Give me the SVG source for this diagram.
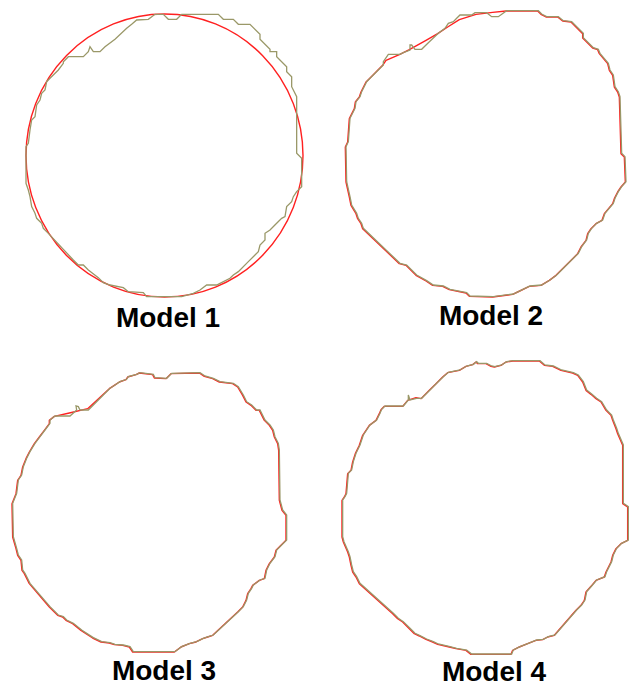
<svg xmlns="http://www.w3.org/2000/svg" width="629" height="687" viewBox="0 0 629 687">
<style>
.red{fill:none;stroke:#ff2020;stroke-width:1.4;stroke-linejoin:round;vector-effect:non-scaling-stroke}
.ol{fill:none;stroke:#9a9868;stroke-width:1.3;stroke-linejoin:miter;vector-effect:non-scaling-stroke}
.lbl{font-family:"Liberation Sans",Arial,sans-serif;font-weight:bold;font-size:28px;fill:#000;text-anchor:middle}
</style>
<rect width="629" height="687" fill="#fff"/>
<g id="model1">
<ellipse class="red" cx="164.5" cy="155.5" rx="138.5" ry="141.5"/>
<g transform="scale(0.33333)">
<polygon class="ol" points="465,43 490,43 505,58 530,58 545,43 655,43 670,58 700,58 715,73 750,73 780,103 780,118 810,148 810,155 830,155 830,170 860,200 860,215 875,230 875,260 890,290 890,460 905,475 905,560 890,575 880,590 875,605 860,620 855,650 845,655 830,670 810,690 795,700 795,720 780,735 775,755 745,785 715,815 700,825 690,835 660,850 650,855 620,855 600,870 580,880 545,890 440,890 430,878 385,875 370,863 330,855 310,848 295,833 265,810 250,795 235,795 220,780 145,700 130,685 125,670 110,655 105,640 95,620 90,590 85,570 78,550 78,440 85,430 90,390 95,360 105,350 110,315 120,300 125,280 135,270 140,245 150,235 175,210 190,190 190,185 205,170 250,170 265,155 270,140 280,155 300,155 315,140 345,118 380,85 395,73 410,60 445,58"/>
</g>
<text class="lbl" x="168" y="327">Model 1</text>
</g>
<g id="model2">
<g transform="translate(320,0) scale(0.33333)">
<polygon class="red" transform="translate(-2,1)" points="560,32 655,32 665,42 680,50 715,50 730,62 755,65 790,100 790,113 820,143 835,148 840,160 865,190 870,210 880,225 885,260 895,275 900,290 905,460 915,470 918,545 905,560 895,575 885,595 880,610 855,640 848,660 830,670 815,685 805,700 800,720 785,740 775,760 760,775 710,825 690,840 665,855 630,858 595,875 580,882 520,890 450,888 440,878 390,868 370,858 340,855 320,842 290,825 260,795 240,790 130,685 125,670 115,655 110,640 95,615 90,590 80,545 78,440 85,425 90,355 105,325 108,305 120,290 125,275 140,245 150,235 190,195 200,180 240,163 270,148 320,120 355,100 385,80 420,58 470,42 520,36"/>
<polygon class="ol" points="560,32 655,32 665,42 680,50 715,50 730,62 755,65 790,100 790,113 820,143 835,148 840,160 865,190 870,210 880,225 885,260 895,275 900,290 905,460 915,470 918,545 905,560 895,575 885,595 880,610 855,640 848,660 830,670 815,685 805,700 800,720 785,740 775,760 760,775 710,825 690,840 665,855 630,858 595,875 580,882 520,890 450,888 440,878 390,868 370,858 340,855 320,842 290,825 260,795 240,790 130,685 125,670 115,655 110,640 95,615 90,590 80,545 78,440 85,425 90,355 105,325 108,305 120,290 125,275 140,245 150,235 190,195 190,185 205,163 240,163 250,158 270,150 270,135 275,135 285,148 305,148 325,128 355,100 375,85 385,70 400,65 410,55 420,45 455,45 465,38 500,38 515,50 535,50"/>
</g>
<text class="lbl" x="491" y="325">Model 2</text>
</g>
<g id="model3">
<g transform="translate(0,340) scale(0.33333)">
<polygon class="red" transform="translate(-2,1)" points="515,100 600,98 615,108 640,115 660,125 700,130 715,140 730,165 740,185 755,195 770,210 780,210 795,240 810,255 820,270 825,290 835,310 838,330 840,480 848,510 860,525 860,600 845,615 830,630 825,650 810,670 800,690 795,715 780,720 760,735 755,745 745,760 740,780 730,800 715,815 640,885 625,890 610,895 590,905 570,910 545,920 525,935 400,935 390,920 370,915 345,913 330,908 305,905 280,893 260,880 245,870 220,850 200,840 190,830 175,825 150,800 90,730 75,700 68,690 65,660 55,645 50,625 40,590 38,490 50,460 55,420 65,405 70,380 80,355 90,335 105,310 120,290 135,270 150,250 150,240 165,228 210,218 265,205 330,145 345,135 360,125 380,118 385,110 410,103 420,98 460,103 465,113 500,115"/>
<polygon class="ol" points="515,100 600,98 615,108 640,115 660,125 700,130 715,140 730,165 740,185 755,195 770,210 780,210 795,240 810,255 820,270 825,290 835,310 838,330 840,480 848,510 860,525 860,600 845,615 830,630 825,650 810,670 800,690 795,715 780,720 760,735 755,745 745,760 740,780 730,800 715,815 640,885 625,890 610,895 590,905 570,910 545,920 525,935 400,935 390,920 370,915 345,913 330,908 305,905 280,893 260,880 245,870 220,850 200,840 190,830 175,825 150,800 90,730 75,700 68,690 65,660 55,645 50,625 40,590 38,490 50,460 55,420 65,405 70,380 80,355 90,335 105,310 120,290 135,270 150,250 150,240 165,228 210,228 230,210 228,198 235,200 240,210 265,210 330,145 345,135 360,125 380,118 385,110 410,103 420,98 460,103 465,113 500,115"/>
</g>
<text class="lbl" x="164" y="680">Model 3</text>
</g>
<g id="model4">
<g transform="translate(320,340) scale(0.33333)">
<polygon class="red" transform="translate(-2,1)" points="580,62 660,62 675,75 700,78 725,90 760,98 775,105 790,125 800,150 815,162 830,175 845,185 860,210 875,225 880,240 890,265 895,280 910,315 910,490 918,495 925,500 925,600 905,610 890,625 880,645 875,665 860,695 855,710 830,720 815,738 800,755 795,780 785,795 770,810 705,885 685,890 670,898 650,900 625,910 600,920 580,930 575,942 455,942 440,930 410,925 390,920 355,912 340,905 320,897 300,887 285,880 270,865 250,845 235,835 220,820 120,730 110,710 100,695 95,675 90,650 85,635 72,605 68,590 68,480 75,470 80,460 85,400 95,390 100,365 108,340 120,315 130,285 150,255 170,240 180,220 185,208 195,198 250,198 265,180 290,172 305,175 330,150 350,130 370,110 385,97 420,90 440,78 460,73 470,65 475,70 500,70 515,78 525,80 545,75 560,65"/>
<polygon class="ol" points="580,62 660,62 675,75 700,78 725,90 760,98 775,105 790,125 800,150 815,162 830,175 845,185 860,210 875,225 880,240 890,265 895,280 910,315 910,490 918,495 925,500 925,600 905,610 890,625 880,645 875,665 860,695 855,710 830,720 815,738 800,755 795,780 785,795 770,810 705,885 685,890 670,898 650,900 625,910 600,920 580,930 575,942 455,942 440,930 410,925 390,920 355,912 340,905 320,897 300,887 285,880 270,865 250,845 235,835 220,820 120,730 110,710 100,695 95,675 90,650 85,635 72,605 68,590 68,480 75,470 80,460 85,400 95,390 100,365 108,340 120,315 130,285 150,255 170,240 180,220 185,208 195,198 250,198 265,180 265,165 270,180 290,175 305,175 330,150 350,130 370,110 385,97 420,90 440,78 460,73 470,65 475,70 500,70 515,78 525,80 545,75 560,65"/>
</g>
<text class="lbl" x="494" y="681">Model 4</text>
</g>
</svg>
